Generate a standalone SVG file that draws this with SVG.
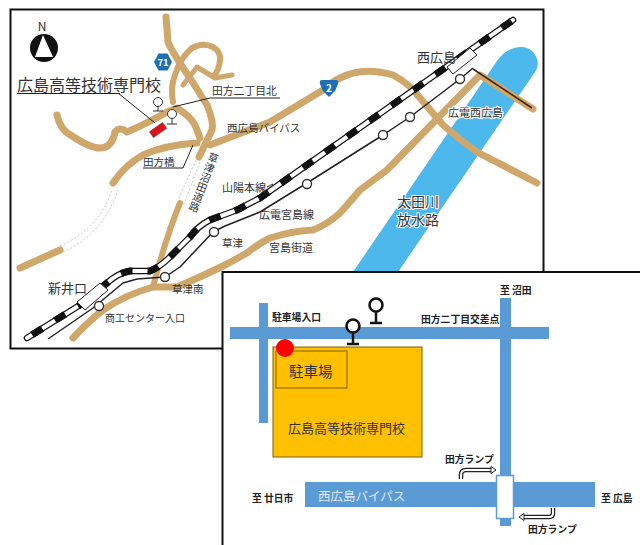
<svg xmlns="http://www.w3.org/2000/svg" width="640" height="545" viewBox="0 0 640 545">
<style>
text{font-family:"Noto Sans CJK JP","Liberation Sans",sans-serif;fill:#333}
.road{fill:none;stroke:#CFA76B;stroke-width:7;stroke-linecap:round;stroke-linejoin:round}
.tun{fill:none;stroke:#aaa;stroke-width:.7;stroke-dasharray:2 2}
.thin{fill:none;stroke:#222;stroke-width:1}
.tram{fill:none;stroke:#222;stroke-width:1.5;stroke-linejoin:round}
.st{fill:#fff;stroke:#333;stroke-width:1.4}
.blue{fill:#5B9BD5}
.b{font-weight:700;fill:#222;font-size:9.8px}
.halo{paint-order:stroke;stroke:#fff;stroke-width:2px}
.sig{fill:#fff;stroke:#111;stroke-width:2.500}
.sigl{fill:none;stroke:#111;stroke-width:2.500}
.sg{fill:#fff;stroke:#333;stroke-width:1}
.sgl{fill:none;stroke:#333;stroke-width:1}
.arO{fill:none;stroke:#222;stroke-width:4.500}
.arI{fill:none;stroke:#fff;stroke-width:2}
</style>
<defs><path id="rail" d="M27 338L80 305L107 283Q118 273 130 271H150Q160 267 170 257L190 237Q198 226 210 220L237 210L260 198L513 20"/></defs>
<rect width="640" height="545" fill="#fff"/>
<g id="map">
<rect x="10.500" y="9.500" width="533" height="339" fill="#fff" stroke="#111" stroke-width="2"/>
<path id="river" d="M497 61C507 46 525 43 533 52C539 59 539 66 535 72L398 272H353Z" fill="#4DB8EC"/>
<g id="roads">
<path class="road" d="M166 17L168 42Q172 52 190 78L207 105Q214 122 212 130L199 157"/>
<path class="road" style="stroke-width:6" d="M173 102Q170 88 175 75Q180 58 192 48Q203 42 213 47Q221 52 220 60Q219 70 214 76"/>
<path class="road" style="stroke-width:5" d="M183 85L197 67L215 78L232 75"/>
<path class="road" d="M57 115Q60 130 72 136Q90 148 100 148Q112 148 115 132Q120 126 127 132Q150 122 167 112L177 108Q190 116 195 125L200 138"/>
<path class="road" d="M113 183Q125 165 143 155Q165 145 197 143"/>
<path class="road" d="M60 250L20 268"/>
<path class="road" style="stroke-width:6" d="M180 203Q165 240 153 287"/>
<path class="road" d="M210 145L270 122L323 90Q332 82 340 78Q363 66 393 75Q410 84 420 98L443 125Q460 140 477 152L537 183"/>
<path class="road" d="M73 338Q88 322 103 310Q125 295 153 287L177 287Q205 275 227 264Q238 258 247 253Q258 244 270 238Q292 231 313 230Q328 224 340 213Q350 202 360 190L387 170L480 75L533 109"/>
<path class="tun" d="M60 246Q100 228 112 190"/>
<path class="tun" d="M63 252Q103 234 118 190"/>
<path class="tun" d="M196 160L178 200"/>
<path class="tun" d="M200 162L184 204"/>
</g>
<g id="lines">
<use href="#rail" fill="none" stroke="#111" stroke-width="6.500" stroke-linecap="round" stroke-linejoin="round"/>
<use href="#rail" fill="none" stroke="#fff" stroke-width="4" stroke-linecap="round" stroke-linejoin="round"/>
<use href="#rail" fill="none" stroke="#111" stroke-width="7" stroke-dasharray="12 15" stroke-dashoffset="-6"/>
<path class="tram" d="M48 339L93 308L123 283L137 279L165 277L180 267L213 232L225 226L260 212L307 183L383 135L410 117L460 79L473 68"/>
<path d="M473 69L532 108" fill="none" stroke="#3b2410" stroke-width="1.500"/>
<circle class="st" cx="99" cy="306" r="4.500"/><circle class="st" cx="165" cy="277" r="4.500"/><circle class="st" cx="214" cy="232" r="4.500"/><circle class="st" cx="307" cy="184" r="4.500"/><circle class="st" cx="383" cy="135" r="4.500"/><circle class="st" cx="410" cy="117" r="4.500"/><circle class="st" cx="460" cy="79" r="4.500"/>
<path d="M447 67L470 48L477 55L453 74Z" fill="#fff" stroke="#222" stroke-width="1"/>
<path d="M77 302L100 283L108 290L85 310Z" fill="#fff" stroke="#222" stroke-width="1"/>
</g>
<g id="compass"><text x="42" y="31" font-size="12" text-anchor="middle">N</text><circle cx="44" cy="48" r="14" fill="#111"/><path d="M43 35L53 57H35Z" fill="#fff"/></g>
<g id="shields">
<path d="M154 62L158.500 53.500H167.500L172 62L167.500 70.500H158.500Z" fill="#1F6FB5"/><text x="163" y="66" font-size="9.500" font-weight="700" text-anchor="middle" style="fill:#fff">71</text>
<path d="M322 80H336Q339 80 338 84L335 91L329 97L323 91L320 84Q319 80 322 80Z" fill="#1F6FB5"/><text x="329" y="92" font-size="10" font-weight="700" text-anchor="middle" style="fill:#fff">2</text>
</g>
<g id="school-marker">
<path d="M118 93L155 123" class="thin"/><path d="M17 93.500H120" class="thin"/>
<rect x="150" y="126.500" width="16" height="7" fill="#D9141E" stroke="#800" stroke-width=".5" transform="rotate(-35 158 130)"/>
<circle class="sg" cx="158" cy="102" r="4.500"/><path class="sgl" d="M158 106.500V111M153 111H163"/>
<circle class="sg" cx="172" cy="114" r="4.500"/><path class="sgl" d="M172 118.500V124M167 124H177"/>
<path class="thin" d="M173 107L210 98H280M143 168H183L193 145"/>
</g>
<g id="map-labels">
<text x="17" y="91" font-size="16">広島高等技術専門校</text>
<text x="212" y="95" font-size="10.800">田方二丁目北</text>
<text x="227" y="132" font-size="10.500">西広島バイパス</text>
<text x="143" y="166" font-size="10.500">田方橋</text>
<text x="417" y="62" font-size="13">西広島</text>
<text class="halo" x="448" y="117" font-size="11">広電西広島</text>
<text x="222" y="192" font-size="11">山陽本線</text>
<text x="259" y="219" font-size="11">広電宮島線</text>
<text x="222" y="247" font-size="10.500">草津</text>
<text x="269" y="252" font-size="11">宮島街道</text>
<text x="172" y="293" font-size="10.500">草津南</text>
<text x="105" y="322" font-size="10">商工センター入口</text>
<text x="48" y="293" font-size="13">新井口</text>
<text class="halo" font-size="14"><tspan x="397" y="207">太田川</tspan><tspan x="397" y="225">放水路</tspan></text>
<text font-size="10.500" writing-mode="vertical-rl" transform="rotate(21 215 153)" x="215" y="153">草津沼田道路</text>
<path class="thin" d="M267 187L273 184"/>
</g>
</g>
<g id="detail">
<rect x="222.500" y="272" width="420" height="275" fill="#fff" stroke="#111" stroke-width="2"/>
<g id="detail-roads">
<rect class="blue" x="230" y="327" width="319" height="12"/>
<rect class="blue" x="259" y="303" width="9" height="120"/>
<rect class="blue" x="500" y="298" width="11" height="228"/>
<rect class="blue" x="305" y="482" width="290" height="25"/>
<rect x="496.500" y="475.500" width="17" height="43" fill="#fff" stroke="#5B9BD5" stroke-width="1.500"/>
</g>
<g id="school">
<rect x="273" y="347" width="149" height="110" fill="#FFC000" stroke="#7F6000" stroke-width="1"/>
<rect x="276" y="351" width="71" height="37" fill="none" stroke="#7F6000" stroke-width="1"/>
<text x="289" y="377" font-size="14.500">駐車場</text>
<text x="288" y="433" font-size="13">広島高等技術専門校</text>
</g>
<circle id="entrance" cx="285" cy="348" r="9" fill="#F00"/>
<g id="signals">
<circle class="sig" cx="376" cy="305" r="6.500"/><path class="sigl" d="M376 311.500V323M370 323H382"/>
<circle class="sig" cx="353" cy="326" r="6.500"/><path class="sigl" d="M353 332.500V344M347 344H359"/>
</g>
<g id="ramps">
<path class="arO" d="M461 479V475Q461 470 466 470H492"/><path class="arI" d="M461 479V475Q461 470 466 470H491"/>
<path d="M491 466.500L496 470L491 473.500Z" fill="#fff" stroke="#222"/>
<path class="arO" d="M553 508V513Q553 517 549 517H522"/><path class="arI" d="M553 508V513Q553 517 549 517H523"/>
<path d="M524 513.500L519 517L524 520.500Z" fill="#fff" stroke="#222"/>
</g>
<g id="detail-labels">
<text class="b" x="272" y="320.500">駐車場入口</text>
<text class="b" x="421" y="322.500">田方二丁目交差点</text>
<text class="b" x="500" y="293.500">至 沼田</text>
<text class="b" x="252" y="501.500">至 廿日市</text>
<text class="b" x="601" y="501.500">至 広島</text>
<text class="b" x="445" y="462.500">田方ランプ</text>
<text class="b" x="528" y="532.500">田方ランプ</text>
<text x="318" y="500.500" font-size="12.500" style="fill:#DCE9F6">西広島バイパス</text>
</g>
</g>
</svg>
